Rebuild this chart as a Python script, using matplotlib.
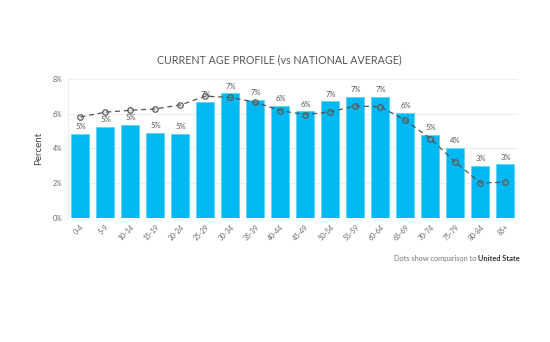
import matplotlib.pyplot as plt
import numpy as np

age_groups = ["0-4", "5-9", "10-14", "15-19", "20-24", "25-29", "30-34", "35-39",
              "40-44", "45-49", "50-54", "55-59", "60-64", "65-69", "70-74",
              "75-79", "80-84", "85+"]
local_pct = [4.84, 5.24, 5.36, 4.91, 4.84, 6.69, 7.17, 6.80, 6.43, 6.13,
             6.71, 6.96, 6.96, 6.07, 4.78, 4.03, 2.99, 3.08]
national_pct = [5.82, 6.09, 6.20, 6.28, 6.51, 7.01, 6.94, 6.66, 6.18, 5.95,
                6.11, 6.45, 6.40, 5.62, 4.57, 3.20, 2.02, 2.06]
y_ticks = [0, 2, 4, 6, 8]

plt.rcParams['font.family'] = ['Lato', 'DejaVu Sans']

fig = plt.figure(figsize=(5.5, 3.42), dpi=100)
ax = fig.add_axes([0.1236, 0.3626, 0.8182, 0.4064])

x = np.arange(len(age_groups))
bars = ax.bar(x, local_pct, width=0.72, color='#00b9f2', edgecolor='#5fd2f7',
              linewidth=0.6, zorder=2)
for xi, v in zip(x, local_pct):
    ax.text(xi, v + 0.22, f"{round(v):.0f}%", ha='center', va='bottom',
            fontsize=5.5, color='#555555', zorder=4)

ax.plot(x, national_pct, linestyle=(0, (4, 3)), color='#555555', linewidth=0.9,
        marker='o', markersize=4, markerfacecolor=(0.55, 0.55, 0.55, 0.25),
        markeredgecolor='#555555', markeredgewidth=0.8, zorder=3)

ax.set_xlim(-0.5, len(age_groups) - 0.5)
ax.set_ylim(0, 8)
ax.set_yticks(y_ticks)
ax.set_yticklabels([f"{t}%" for t in y_ticks], fontsize=5, color='#666666')
ax.set_xticks(x)
ax.set_xticklabels(age_groups, rotation=45, ha='right', rotation_mode='anchor',
                   fontsize=5, color='#666666')
ax.tick_params(length=0, pad=4)
ax.grid(axis='y', color='#eeeeee', linewidth=0.8, zorder=0)
ax.set_axisbelow(True)
for s in ['top', 'right', 'bottom']:
    ax.spines[s].set_visible(False)
ax.spines['left'].set_color('#eeeeee')
ax.spines['left'].set_linewidth(0.8)
ax.axhline(0, color='#eeeeee', linewidth=0.8, zorder=1)

ax.set_ylabel("Percent", fontsize=7, color='#444444', labelpad=7)

fig.text(0.508, 0.825, "CURRENT AGE PROFILE (vs NATIONAL AVERAGE)", ha='center',
         va='center', fontsize=7.7, color='#555555')

fig.text(0.866, 0.243, "Dots show comparison to", ha='right', va='center',
         fontsize=5.3, color='#777777')
fig.text(0.944, 0.243, "United State", ha='right', va='center',
         fontsize=5.3, color='#333333', fontweight='bold')

fig.savefig("out.png", dpi=100)
